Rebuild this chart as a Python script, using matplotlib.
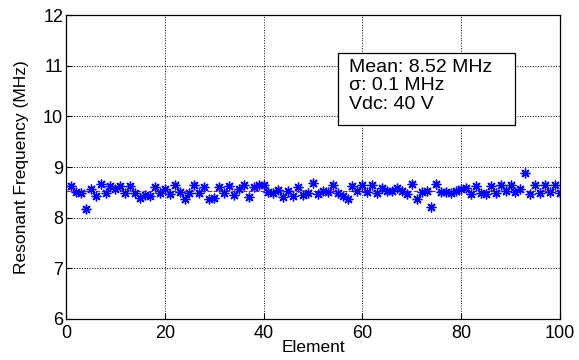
import numpy as np
import matplotlib
matplotlib.use("Agg")
import matplotlib.pyplot as plt
import matplotlib.patches as patches

plt.rcParams['font.family'] = ['Liberation Sans', 'DejaVu Sans']

# resonant frequency per element (MHz)
elements = list(range(1, 101))
freq_mhz = [
    8.62, 8.51, 8.48, 8.18, 8.56, 8.43, 8.66, 8.49, 8.62, 8.56,
    8.62, 8.48, 8.62, 8.49, 8.39, 8.44, 8.43, 8.60, 8.48, 8.56,
    8.47, 8.64, 8.51, 8.36, 8.48, 8.64, 8.48, 8.61, 8.36, 8.39,
    8.61, 8.49, 8.62, 8.44, 8.56, 8.65, 8.40, 8.61, 8.65, 8.65,
    8.51, 8.49, 8.55, 8.40, 8.53, 8.43, 8.60, 8.44, 8.48, 8.68,
    8.47, 8.53, 8.51, 8.64, 8.49, 8.43, 8.36, 8.62, 8.53, 8.64,
    8.51, 8.64, 8.49, 8.58, 8.53, 8.53, 8.58, 8.53, 8.47, 8.66,
    8.36, 8.51, 8.53, 8.22, 8.66, 8.51, 8.51, 8.49, 8.53, 8.56,
    8.58, 8.47, 8.63, 8.49, 8.47, 8.63, 8.48, 8.64, 8.53, 8.64,
    8.51, 8.56, 8.89, 8.47, 8.64, 8.49, 8.64, 8.51, 8.64, 8.49,
]
mean_mhz = 8.52
info_lines = ["Mean: 8.52 MHz", "\u03c3: 0.1 MHz", "Vdc: 40 V"]
x_ticks = [0, 20, 40, 60, 80, 100]
y_ticks = [6, 7, 8, 9, 10, 11, 12]

fig = plt.figure(figsize=(5.79, 3.6), dpi=100)
ax = fig.add_axes([0.114, 0.114, 0.853, 0.844])

# mean line, drawn under the points
ax.axhline(mean_mhz, color='red', linestyle='--', linewidth=0.8, zorder=1)
# matlab style asterisk: plus and cross overlaid
ax.plot(elements, freq_mhz, linestyle='none', marker=(8, 2, 0), color='blue',
        markersize=7, markeredgewidth=1.0, zorder=2)

ax.set_xlim(0, 100)
ax.set_ylim(6, 12)
ax.set_xticks(x_ticks)
ax.set_yticks(y_ticks)
ax.tick_params(direction='in', labelsize=13, length=4, width=0.8)
ax.tick_params(axis='x', pad=4)
ax.tick_params(axis='y', pad=2)
ax.grid(True, color='black', linestyle=':', linewidth=0.7)
for s in ax.spines.values():
    s.set_linewidth(0.9)

ax.set_xlabel("Element", fontsize=12.5, labelpad=-1)
ax.set_ylabel("Resonant Frequency (MHz)", fontsize=12.5, labelpad=10)

# info box
box = patches.Rectangle((0.551, 0.638), 0.358, 0.237, transform=ax.transAxes,
                        facecolor='white', edgecolor='black', linewidth=0.9, zorder=3)
ax.add_patch(box)
for i, line in enumerate(info_lines):
    ax.text(0.572, 0.829 - i * 0.062, line, transform=ax.transAxes,
            fontsize=14, va='center', ha='left', zorder=4)

fig.savefig("out.png", dpi=100)
